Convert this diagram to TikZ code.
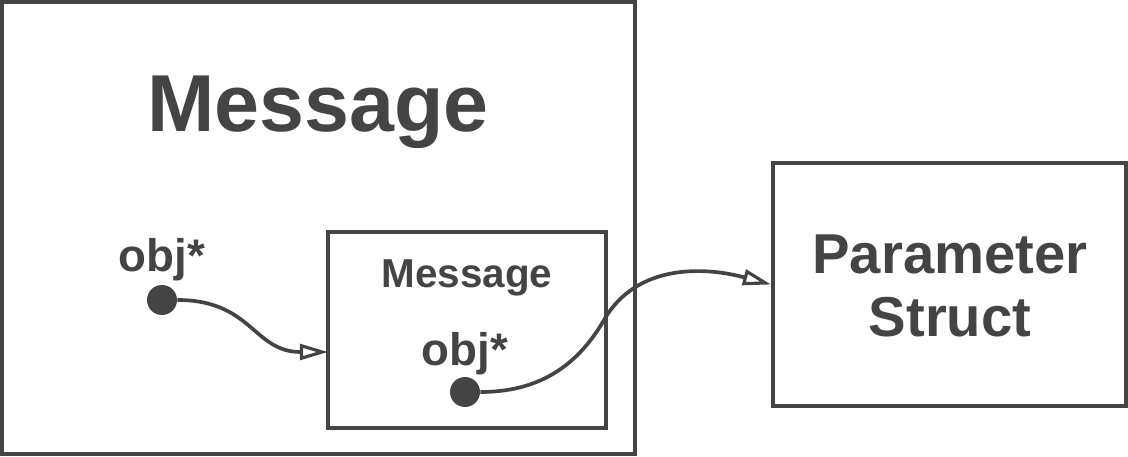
\documentclass[tikz,border=0pt]{standalone}
\usepackage{fontspec}
\setmainfont{Liberation Sans}
\usetikzlibrary{positioning}
\usetikzlibrary{arrows.meta}
\definecolor{ink}{HTML}{444444}

\begin{document}
\begin{tikzpicture}[x=0.02cm, y=0.02cm, ink,
  box/.style={draw, line width=2.3pt, inner sep=0pt},
  dot/.style={circle, fill, inner sep=0pt, minimum size=0.6cm},
  link/.style={line width=2.1pt, -{Triangle[open, length=16pt, width=9pt, line width=1.8pt]}},
  bigtext/.style={font=\bfseries\fontsize{46}{52}\selectfont},
  midtext/.style={font=\bfseries\fontsize{32}{36}\selectfont, align=center},
  smalltext/.style={font=\bfseries\fontsize{23}{26}\selectfont},
  objtext/.style={font=\bfseries\fontsize{26}{30}\selectfont, inner sep=0pt}]
  \useasboundingbox (0,0) rectangle (1128,456);

  % boxes
  \node[box, minimum width=12.66cm, minimum height=9.04cm] (outer) at (318.5,228) {};
  \node[box, minimum width=5.56cm, minimum height=3.92cm] (inner) at (467,126) {};
  \node[box, minimum width=7.06cm, minimum height=4.86cm] (param) at (949.5,171.5) {};

  % titles
  \node[bigtext] (outertitle) at (318,344) {Message};
  \node[smalltext] (innertitle) at (467,178) {Message};
  \node[midtext] (paramtitle) at (950,170) {Parameter\\Struct};

  % pointers
  \node[dot] (dot1) at (162,156) {};
  \node[objtext, above=2pt of dot1] (obj1) {obj*};
  \node[dot] (dot2) at (465,64) {};
  \node[objtext, above=1pt of dot2] (obj2) {obj*};
  \coordinate (innerin) at (328,104);
  \coordinate (bend) at (604,136);

  \draw[link] (dot1.east) to[out=0,in=180, looseness=1.2] (innerin);
  \draw[link] (dot2.east) to[out=0,in=-120] (bend) to[out=60,in=165] (param.west);
\end{tikzpicture}
\end{document}
